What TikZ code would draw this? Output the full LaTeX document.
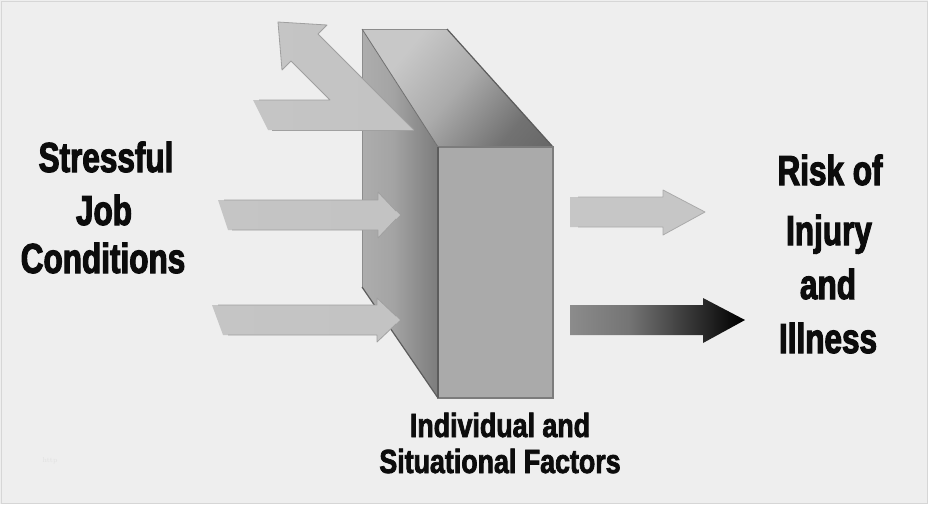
\documentclass[tikz,border=0pt]{standalone}
\usepackage{fontspec}
\newfontfamily\condA{Liberation Sans}[FakeStretch=0.75,FakeBold=2.6]
\newfontfamily\condB{Liberation Sans}[FakeStretch=0.80,FakeBold=2.2]
\definecolor{bg}{HTML}{EEEEEE}
\definecolor{framegray}{HTML}{D6D6D6}
\definecolor{sA}{HTML}{B8B8B8}
\definecolor{sB}{HTML}{A4A4A4}
\definecolor{sC}{HTML}{787878}
\definecolor{sD}{HTML}{5E5E5E}
\definecolor{la}{HTML}{E8E8E8}
\definecolor{lb}{HTML}{C6C6C6}
\definecolor{lc}{HTML}{C2C2C2}
\definecolor{ld}{HTML}{9C9C9C}
\definecolor{ta}{HTML}{C8C8C8}
\definecolor{tb}{HTML}{ABABAB}
\definecolor{tc}{HTML}{727272}
\definecolor{td}{HTML}{5A5A5A}
\definecolor{ra}{HTML}{B4B4B4}
\definecolor{rb}{HTML}{A6A6A6}
\definecolor{rc}{HTML}{747474}
\definecolor{rd}{HTML}{1E1E1E}
\definecolor{edgegray}{HTML}{A0A0A0}
\definecolor{edgeA}{HTML}{8C8C8C}
\definecolor{edgeB}{HTML}{5C5C5C}
\definecolor{frontfill}{HTML}{AAAAAA}
\definecolor{frontedge}{HTML}{7C7C7C}
\definecolor{txt}{HTML}{0C0C0C}
\pgfdeclarehorizontalshading{sideface}{100bp}{color(0bp)=(sA); color(45bp)=(sB); color(78bp)=(sC); color(100bp)=(sD)}
\pgfdeclarehorizontalshading{larrow}{100bp}{color(0bp)=(la); color(6bp)=(lb); color(86bp)=(lc); color(100bp)=(ld)}
\pgfdeclarehorizontalshading{lbent}{100bp}{color(0bp)=(la); color(7bp)=(lb); color(88bp)=(lc); color(100bp)=(ld)}
\pgfdeclarehorizontalshading{topface}{100bp}{color(0bp)=(ta); color(30bp)=(ta); color(50bp)=(tb); color(72bp)=(tc); color(100bp)=(td)}
\pgfdeclarehorizontalshading{rarrowA}{100bp}{color(0bp)=(la); color(8bp)=(lb); color(100bp)=(lb)}
\pgfdeclarehorizontalshading{rarrowB}{100bp}{color(0bp)=(ra); color(6bp)=(rb); color(42bp)=(rc); color(66bp)=(rd); color(74bp)=(black); color(100bp)=(black)}
\tikzset{
  bigtxt/.style={anchor=base, inner sep=0pt, text=txt, font=\condA\bfseries\fontsize{42}{50}\selectfont},
  smalltxt/.style={anchor=base, inner sep=0pt, text=txt, font=\condB\bfseries\fontsize{33.5}{36}\selectfont},
  arrowedge/.style={draw=edgegray, line width=0.8pt, line join=round},
}
\begin{document}
\begin{tikzpicture}[x=1pt,y=-1pt]
\useasboundingbox (0,0) rectangle (928,504);
\fill[bg] (0,0) rectangle (928,504);
\draw[framegray, line width=1pt] (1,1) rectangle (927,503);
% side face of the block
\shade[shading=sideface] (362,29) -- (438,147) -- (438,398) -- (362,287) -- cycle;
\draw[edgeA, line width=1pt] (362,29) -- (362,287);
\draw[edgeB, line width=1.2pt] (362,287) -- (438,398);
% left arrows
\shade[shading=larrow] (218,200) -- (378,200) -- (378,192) -- (400,215) -- (378,238) -- (378,230) -- (228,230) -- cycle;
\draw[arrowedge] (224,200) -- (378,200) -- (378,192) -- (396,211);
\draw[arrowedge] (396,219) -- (378,238) -- (378,230) -- (232,230);
\shade[shading=larrow] (212,305) -- (377,305) -- (377,298) -- (400,320) -- (377,342) -- (377,335) -- (223,335) -- cycle;
\draw[arrowedge] (218,305) -- (377,305) -- (377,298) -- (396,316);
\draw[arrowedge] (396,324) -- (377,342) -- (377,335) -- (228,335);
% deflected arrow
\shade[shading=lbent] (253,100) -- (330,100) -- (291,61) -- (282,70) -- (278,22) -- (327,25) -- (318,34) -- (414,130) -- (268,130) -- cycle;
\draw[arrowedge] (259,100) -- (330,100) -- (291,61) -- (282,70) -- (278,22) -- (327,25) -- (318,34) -- (414,130);
\draw[arrowedge] (272,130) -- (414,130);
% top face
\shade[shading=topface, shading angle=-40] (362,29) -- (447,29) -- (553,147) -- (438,147) -- cycle;
\draw[edgeA, line width=1pt] (362,29) -- (447,29);
\draw[edgeB, line width=1.2pt] (447,29) -- (553,147);
\draw[edgeA!80!black, line width=0.8pt] (362,29) -- (438,147);
% front face
\fill[frontfill] (438,147) rectangle (553,398);
\draw[frontedge, line width=1.5pt] (438,147) rectangle (553,398);
\draw[edgeB, line width=1.5pt] (438,147) -- (438,398);
% right arrows
\shade[shading=rarrowA] (570,197) -- (663,197) -- (663,190) -- (705,212) -- (663,235) -- (663,227) -- (570,227) -- cycle;
\draw[arrowedge, draw=edgegray!90] (578,197) -- (663,197) -- (663,190) -- (705,212) -- (663,235) -- (663,227) -- (578,227);
\shade[shading=rarrowB] (570,305) -- (703,305) -- (703,298) -- (745,320) -- (703,343) -- (703,335) -- (570,335) -- cycle;
% texts
\node[bigtxt] (s1) at (106,172) {Stressful};
\node[bigtxt] (s2) at (104,225) {Job};
\node[bigtxt] (s3) at (103,273) {Conditions};
\node[bigtxt] (r1) at (830,185) {Risk of};
\node[bigtxt] (r2) at (829,245) {Injury};
\node[bigtxt] (r3) at (828,299) {and};
\node[bigtxt] (r4) at (828,353) {Illness};
\node[smalltxt] (b1) at (500,437) {Individual and};
\node[smalltxt] (b2) at (500,473) {Situational Factors};
\node[anchor=base, inner sep=0pt, text=black!12, font=\fontsize{7}{8}\selectfont] (w) at (50,462) {http};
\end{tikzpicture}
\end{document}
